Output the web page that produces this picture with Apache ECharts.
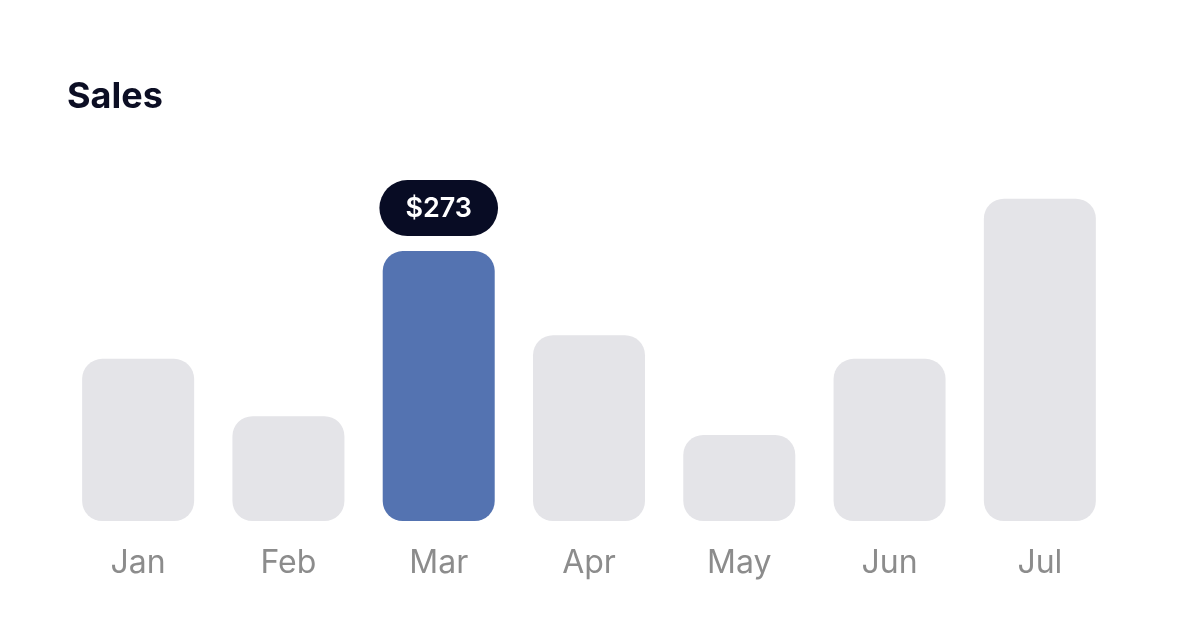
<!DOCTYPE html>
<html>
<head>
<meta charset="utf-8">
<script src="https://cdn.jsdelivr.net/npm/echarts@6/dist/echarts.min.js"></script>
<style>
html,body{margin:0;padding:0;background:#fff;}
#chart{width:1179px;height:641px;}
</style>
</head>
<body>
<div id="chart"></div>
<script>
const months = ['Jan','Feb','Mar','Apr','May','Jun','Jul'];
const sales = [164, 106, 273, 188, 87, 164, 326];
const highlightIndex = 2;

const chart = echarts.init(document.getElementById('chart'));
const data = sales.map((v, i) => {
  if (i === highlightIndex) {
    return {
      value: v,
      itemStyle: { color: '#5473B1' },
      label: {
        show: true,
        position: 'top',
        distance: 15,
        formatter: '${c}',
        color: '#ffffff',
        fontFamily: 'Inter',
        fontSize: 27,
        fontWeight: 600,
        backgroundColor: '#080C24',
        borderRadius: 28,
        padding: [15, 26, 14, 26]
      }
    };
  }
  return v;
});

chart.setOption({
  animation: false,
  backgroundColor: '#ffffff',
  title: {
    text: 'Sales',
    left: 62,
    top: 74,
    textStyle: { fontFamily: 'Inter', fontSize: 36, fontWeight: 700, color: '#0C0E24' }
  },
  grid: { left: 63, right: 64, top: 175, bottom: 120, containLabel: false },
  xAxis: {
    type: 'category',
    data: months,
    axisLine: { show: false },
    axisTick: { show: false },
    axisLabel: { margin: 26, fontFamily: 'Inter', fontSize: 32, color: '#8C8C8C' }
  },
  yAxis: { type: 'value', min: 0, max: 350, show: false, splitLine: { show: false } },
  series: [{
    type: 'bar',
    data: data,
    barWidth: 112,
    itemStyle: { color: '#E4E4E8', borderRadius: 20 }
  }]
});
</script>
</body>
</html>
